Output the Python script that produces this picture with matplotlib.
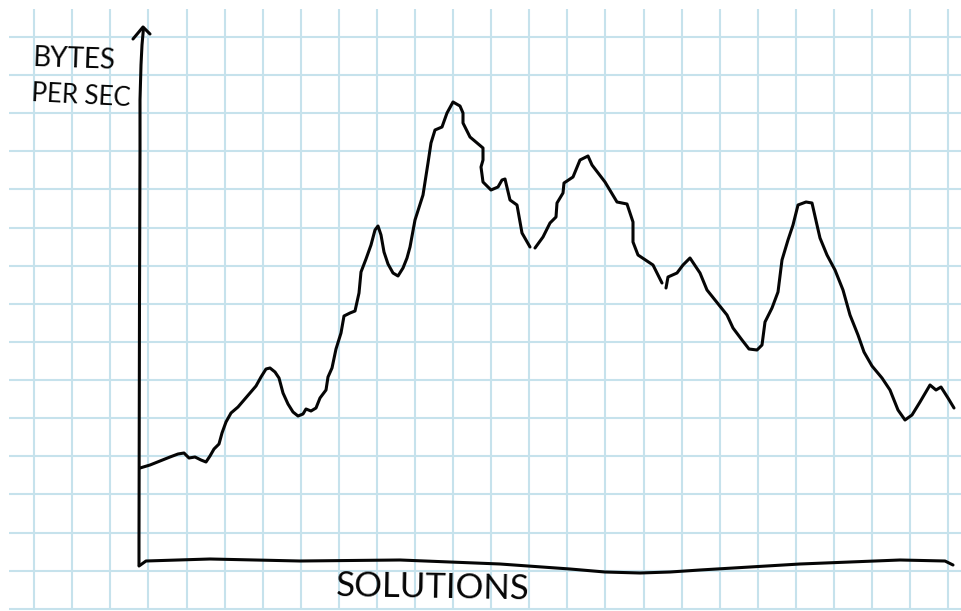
import matplotlib
matplotlib.use("Agg")
import matplotlib.pyplot as plt

W, H = 962, 611
GRID = "#c6e2ec"
INK = "#050505"

grid_x = [34.5, 72.5, 110.5, 148.5, 187, 225, 263, 301, 339, 377, 415, 453, 491, 529,
          567, 605.5, 644, 682, 720, 758, 796, 834, 872, 910, 948]
grid_y = [36.5, 75, 113, 151, 189, 228, 266, 304, 342, 380, 418, 456, 494, 533, 571, 609]

seg1_x = [140, 150, 160, 170, 178, 184, 189, 195, 201, 206, 210, 214, 219, 222, 226, 231, 238, 244,
          250, 256, 261, 266, 270, 275, 279, 283, 288, 293, 298, 303, 306, 311, 316, 320, 326, 328,
          332, 336, 341, 344, 350, 355, 359, 361, 366, 371, 375, 378, 381, 384, 388, 393, 398, 403,
          407, 410, 415, 423, 428, 431, 435, 442, 447, 453, 460, 463, 463, 470, 483, 483, 481, 483,
          491, 498, 502, 505, 510, 517, 522, 530]
seg1_y = [468, 465, 461, 457, 454, 453, 458, 457, 460, 462, 456, 449, 444, 433, 422, 413, 407, 400,
          393, 386, 377, 369, 368, 372, 378, 393, 404, 412, 416, 414, 409, 411, 408, 398, 390, 377,
          368, 349, 333, 316, 313, 311, 293, 272, 259, 245, 230, 226, 235, 252, 264, 273, 276, 268,
          258, 247, 220, 195, 163, 143, 130, 127, 113, 102, 106, 113, 123, 137, 148, 160, 167, 182,
          190, 187, 180, 179, 200, 205, 233, 247]
seg2_x = [535, 543, 550, 556, 557, 563, 564, 573, 580, 588, 592, 605, 617, 627, 633, 633, 638, 653, 662]
seg2_y = [248, 237, 223, 217, 203, 193, 183, 177, 160, 156, 165, 182, 202, 204, 222, 242, 255, 265, 283]
seg3_x = [666, 668, 677, 683, 690, 700, 707, 715, 727, 733, 742, 749, 757, 762, 765, 772, 778, 782,
          788, 793, 798, 806, 812, 817, 820, 827, 835, 843, 850, 858, 864, 872, 882, 890, 898, 905,
          912, 920, 930, 936, 941, 948, 954]
seg3_y = [288, 277, 273, 265, 258, 273, 290, 300, 315, 328, 340, 349, 350, 345, 322, 308, 292, 260,
          240, 225, 205, 202, 203, 225, 238, 255, 270, 290, 315, 335, 352, 366, 378, 390, 410, 420,
          415, 402, 385, 390, 387, 398, 408]

yaxis_x = [139, 139, 139.5, 140, 140, 141, 142, 143.5]
yaxis_y = [565, 540, 300, 150, 100, 65, 45, 28]
head_x = [133, 143, 150]
head_y = [39, 27, 34]
xaxis_x = [139, 146, 210, 300, 400, 500, 570, 605, 640, 670, 700, 750, 800, 850, 900, 945, 953]
xaxis_y = [566, 561, 559, 561, 560, 564, 569, 572, 573, 572, 570, 567, 564, 562, 560, 561, 565]

plt.rcParams["font.family"] = ["Lato", "DejaVu Sans"]
fig = plt.figure(figsize=(W / 100, H / 100), dpi=100, facecolor="white")
ax = fig.add_axes([0, 0, 1, 1])
ax.set_xlim(0, W)
ax.set_ylim(H, 0)
ax.axis("off")

ax.vlines(grid_x, 9, 609, color=GRID, lw=1.5, zorder=1)
ax.hlines(grid_y, 9, 962, color=GRID, lw=1.5, zorder=1)

style = dict(color=INK, lw=2.2, solid_joinstyle="round", solid_capstyle="round", zorder=3)
for xs, ys in [(seg1_x, seg1_y), (seg2_x, seg2_y), (seg3_x, seg3_y),
               (yaxis_x, yaxis_y), (head_x, head_y), (xaxis_x, xaxis_y)]:
    ax.plot(xs, ys, **style)

txt = dict(color=INK, fontweight="regular", ha="center", va="center", zorder=4)
ax.text(74, 59, "BYTES", fontsize=20, rotation=-2, **txt)
ax.text(81, 96, "PER SEC", fontsize=18.5, rotation=-3, **txt)
ax.text(433, 588, "SOLUTIONS", fontsize=25, rotation=-1, **txt)

fig.savefig("out.png", dpi=100, facecolor="white")
